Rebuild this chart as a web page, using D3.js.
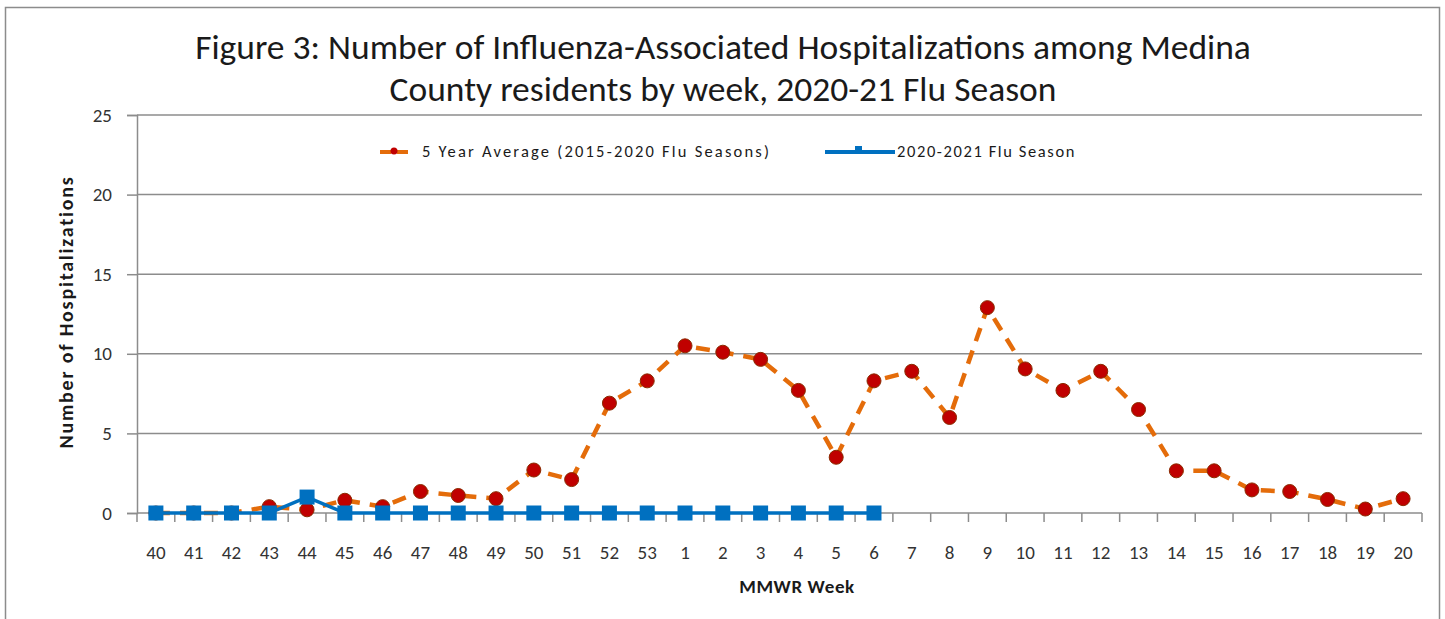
<!DOCTYPE html>
<html>
<head>
<meta charset="utf-8">
<script src="https://cdn.jsdelivr.net/npm/d3@7"></script>
<style>
body { margin: 0; background: #fff; }
text { font-family: Calibri, Carlito, "Liberation Sans Narrow", "Open Sans", sans-serif; }
</style>
</head>
<body>
<svg id="chart" width="1445" height="619"></svg>
<script>
// MMWR weeks of the flu season
const weeks = ['40','41','42','43','44','45','46','47','48','49','50','51','52','53',
	'1','2','3','4','5','6','7','8','9','10','11','12','13','14','15','16','17','18','19','20']

// 5 year average (2015-2020)
const avgValues = [0, 0, 0, 0.4, 0.2, 0.8, 0.4, 1.35, 1.1, 0.9, 2.7, 2.1, 6.9, 8.3,
	10.5, 10.1, 9.65, 7.7, 3.5, 8.3, 8.9, 6.0, 12.9, 9.05, 7.7, 8.9, 6.5, 2.65, 2.65, 1.45, 1.35, 0.85, 0.25, 0.9]

// current season, only through week 6
const seasonValues = [0, 0, 0, 0, 1, 0, 0, 0, 0, 0, 0, 0, 0, 0, 0, 0, 0, 0, 0, 0]

const yTicks = [0, 5, 10, 15, 20, 25]
const titleLines = ['Figure 3: Number of Influenza-Associated Hospitalizations among Medina',
	'County residents by week, 2020-21 Flu Season']

const svg = d3.select('#chart')

// outer chart border
svg.append('rect')
	.attr('x', 5.5).attr('y', 7.5)
	.attr('width', 1434).attr('height', 640)
	.attr('fill', 'none')
	.attr('stroke', '#8c8c8c')
	.attr('stroke-width', 1.5)

const plotLeft = 137, plotRight = 1422, plotTop = 115, plotBottom = 513

const x = d3.scaleBand().domain(weeks).range([plotLeft, plotRight])
const y = d3.scaleLinear().domain([0, 25]).range([plotBottom, plotTop])

// title
svg.append('g').selectAll('text')
	.data(titleLines)
	.join('text')
	.attr('x', 723)
	.attr('y', (d, i) => 59 + i * 42)
	.attr('text-anchor', 'middle')
	.attr('font-size', 35.5)
	.attr('fill', '#1a1a1a')
	.text(d => d)

// gridlines
svg.append('g')
	.selectAll('line')
	.data(yTicks.filter(d => d > 0))
	.join('line')
	.attr('x1', plotLeft).attr('x2', plotRight)
	.attr('y1', d => y(d)).attr('y2', d => y(d))
	.attr('stroke', '#8c8c8c')
	.attr('stroke-width', 1.5)

// y axis
const yAxis = svg.append('g')
	.attr('transform', `translate(${plotLeft},0)`)
	.call(d3.axisLeft(y).tickValues(yTicks).tickSize(10).tickPadding(15))
yAxis.select('.domain').attr('stroke', '#8c8c8c').attr('stroke-width', 1.5)
yAxis.selectAll('.tick line').attr('stroke', '#8c8c8c').attr('stroke-width', 1.5)
yAxis.selectAll('.tick text')
	.attr('font-size', 19)
	.attr('fill', '#333')
	.style('font-family', 'Calibri, Carlito, "Liberation Sans Narrow", sans-serif')

// x axis: ticks sit between categories
const xAxis = svg.append('g')
	.attr('transform', `translate(0,${plotBottom})`)
xAxis.append('line')
	.attr('x1', plotLeft).attr('x2', plotRight)
	.attr('y1', 0).attr('y2', 0)
	.attr('stroke', '#8c8c8c').attr('stroke-width', 1.5)
xAxis.selectAll('line.tk')
	.data(weeks.concat(['end']))
	.join('line')
	.attr('class', 'tk')
	.attr('x1', (d, i) => plotLeft + i * x.step())
	.attr('x2', (d, i) => plotLeft + i * x.step())
	.attr('y1', 0).attr('y2', 9)
	.attr('stroke', '#8c8c8c').attr('stroke-width', 1.5)
xAxis.selectAll('text')
	.data(weeks)
	.join('text')
	.attr('x', d => x(d) + x.bandwidth() / 2)
	.attr('y', 46)
	.attr('text-anchor', 'middle')
	.attr('font-size', 19)
	.attr('fill', '#333')
	.text(d => d)

// axis titles
svg.append('text')
	.attr('transform', 'translate(73,312) rotate(-90)')
	.attr('text-anchor', 'middle')
	.attr('font-size', 20)
	.attr('font-weight', 'bold')
	.attr('letter-spacing', 1.8)
	.attr('fill', '#1a1a1a')
	.text('Number of Hospitalizations')

svg.append('text')
	.attr('x', 797)
	.attr('y', 593)
	.attr('text-anchor', 'middle')
	.attr('font-size', 19)
	.attr('font-weight', 'bold')
	.attr('letter-spacing', 0.6)
	.attr('fill', '#1a1a1a')
	.text('MMWR Week')

const cx = d => x(d) + x.bandwidth() / 2

// 5 year average line
const avgData = weeks.map((w, i) => ({ w: w, v: avgValues[i] }))
const line = d3.line().x(d => cx(d.w)).y(d => y(d.v))

svg.append('path')
	.datum(avgData)
	.attr('d', line)
	.attr('fill', 'none')
	.attr('stroke', '#E46C0A')
	.attr('stroke-width', 4.5)
	.attr('stroke-dasharray', '14,10')

svg.append('g')
	.selectAll('circle')
	.data(avgData)
	.join('circle')
	.attr('cx', d => cx(d.w))
	.attr('cy', d => y(d.v))
	.attr('r', 7)
	.attr('fill', '#C00000')
	.attr('stroke', '#8a2a00')
	.attr('stroke-width', 1)

// current season line
const seasonData = seasonValues.map((v, i) => ({ w: weeks[i], v: v }))

svg.append('path')
	.datum(seasonData)
	.attr('d', line)
	.attr('fill', 'none')
	.attr('stroke', '#0070C0')
	.attr('stroke-width', 3.5)

svg.append('g')
	.selectAll('rect')
	.data(seasonData)
	.join('rect')
	.attr('x', d => cx(d.w) - 7.5)
	.attr('y', d => y(d.v) - 7.5)
	.attr('width', 15)
	.attr('height', 15)
	.attr('fill', '#0070C0')

// legend
const legend = svg.append('g').attr('class', 'legend')

legend.append('line')
	.attr('x1', 380).attr('x2', 412).attr('y1', 152).attr('y2', 152)
	.attr('stroke', '#E46C0A').attr('stroke-width', 4)
	.attr('stroke-dasharray', '11,6')
legend.append('circle')
	.attr('cx', 394).attr('cy', 151).attr('r', 3.5)
	.attr('fill', '#C00000')
legend.append('text')
	.attr('x', 422).attr('y', 157)
	.attr('font-size', 16.5)
	.attr('letter-spacing', 2.2)
	.attr('fill', '#1a1a1a')
	.text('5 Year Average (2015-2020 Flu Seasons)')

legend.append('line')
	.attr('x1', 825).attr('x2', 895).attr('y1', 152).attr('y2', 152)
	.attr('stroke', '#0070C0').attr('stroke-width', 4)
legend.append('rect')
	.attr('x', 855).attr('y', 146).attr('width', 7).attr('height', 6)
	.attr('fill', '#0070C0')
legend.append('text')
	.attr('x', 897).attr('y', 157)
	.attr('font-size', 16.5)
	.attr('letter-spacing', 1.6)
	.attr('fill', '#1a1a1a')
	.text('2020-2021 Flu Season')
</script>
</body>
</html>
